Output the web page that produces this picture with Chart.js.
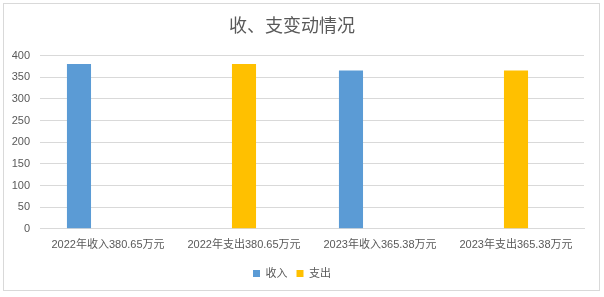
<!DOCTYPE html>
<html lang="zh">
<head>
  <meta charset="UTF-8" />
  <title>收、支变动情况</title>
  <script src="https://cdn.jsdelivr.net/npm/chart.js"></script>
  <style>
    html, body { margin: 0; padding: 0; background: #fff; }
    #wrap { position: relative; width: 604px; height: 297px; }
    #frame {
      position: absolute; left: 3px; top: 3px; width: 597px; height: 288px;
      box-sizing: border-box; border: 1px solid #d9d9d9;
    }
    canvas { position: absolute; left: 0; top: 0; }
  </style>
</head>
<body>
  <div id="wrap">
    <div id="frame"></div>
    <canvas id="barChart" width="604" height="297"></canvas>
  </div>

  <script>
    // data
    const categories = ['2022年收入380.65万元', '2022年支出380.65万元', '2023年收入365.38万元', '2023年支出365.38万元'];
    const income = [380.65, null, 365.38, null];
    const expense = [null, 380.65, null, 365.38];
    const spare = [null, null, null, null]; // empty third series in the source chart
    const yTicks = [0, 50, 100, 150, 200, 250, 300, 350, 400];

    const textColor = '#595959';
    const gridColor = '#d9d9d9';
    const fontFamily = '"Liberation Sans", "Noto Sans CJK SC", sans-serif';

    const ctx = document.getElementById('barChart').getContext('2d');
    new Chart(ctx, {
      type: 'bar',
      data: {
        labels: categories,
        datasets: [
          { label: '收入', data: income, backgroundColor: '#5b9bd5' },
          { label: '支出', data: expense, backgroundColor: '#ffc000' },
          { label: '', data: spare, backgroundColor: '#a5a5a5' }
        ]
      },
      options: {
        responsive: false,
        animation: false,
        categoryPercentage: 0.64,
        barPercentage: 0.83,
        layout: { padding: { left: 0, right: 20, top: 14, bottom: 8 } },
        plugins: {
          title: {
            display: true,
            text: '收、支变动情况',
            color: textColor,
            font: { family: '"Noto Sans CJK SC", sans-serif', size: 18, weight: 'normal' },
            padding: { top: 0, bottom: 20 }
          },
          legend: {
            position: 'bottom',
            labels: {
              boxWidth: 7,
              boxHeight: 7,
              padding: 9,
              color: textColor,
              font: { family: fontFamily, size: 11 },
              filter: item => item.text !== ''
            }
          },
          tooltip: { enabled: false }
        },
        scales: {
          x: {
            grid: { display: false, drawTicks: false },
            border: { color: gridColor },
            ticks: { color: textColor, padding: 10, maxRotation: 0, font: { family: fontFamily, size: 11 } },
            afterFit: s => { s.height -= 3; }
          },
          y: {
            min: 0,
            max: 400,
            afterBuildTicks: s => { s.ticks = yTicks.map(v => ({ value: v })); },
            afterFit: s => { s.width = 40; },
            grid: { color: gridColor, drawTicks: false },
            border: { display: false },
            ticks: { color: textColor, padding: 10, font: { family: fontFamily, size: 11 } }
          }
        }
      }
    });
  </script>
</body>
</html>
